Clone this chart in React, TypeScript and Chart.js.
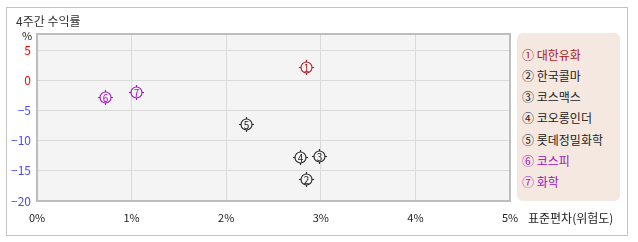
import React, { useEffect, useRef } from "react";
import { Chart, registerables } from "chart.js";

Chart.register(...registerables);

const names = ["대한유화", "한국콜마", "코스맥스", "코오롱인더", "롯데정밀화학", "코스피", "화학"];
const marks = ["①", "②", "③", "④", "⑤", "⑥", "⑦"];
const riskPct = [2.84, 2.84, 2.98, 2.78, 2.21, 0.72, 1.05];
const return4w = [2.3, -16.4, -12.6, -12.7, -7.3, -2.7, -2.0];
const itemColors = ["#b01818", "#222222", "#222222", "#222222", "#222222", "#a010c0", "#a010c0"];
const xTicks = [0, 1, 2, 3, 4, 5];
const yTicks = [-20, -15, -10, -5, 0, 5];

const FONT = '"Noto Sans CJK KR", "Noto Sans", sans-serif';

const framePlugin = {
  id: "frameBits",
  beforeDraw(chart: any) {
    const { ctx, chartArea } = chart;
    ctx.save();
    ctx.fillStyle = "#f4f4f4";
    ctx.fillRect(chartArea.left, chartArea.top, chartArea.right - chartArea.left, chartArea.bottom - chartArea.top);
    ctx.restore();
  },
  afterDatasetsDraw(chart: any) {
    const { ctx } = chart;
    chart.data.datasets.forEach((ds: any, i: number) => {
      const meta = chart.getDatasetMeta(i);
      meta.data.forEach((el: any) => {
        const cx = Math.round(el.x) + 0.5;
        const cy = Math.round(el.y) + 0.5;
        const color = itemColors[i];
        ctx.save();
        ctx.strokeStyle = color;
        ctx.fillStyle = color;
        ctx.lineWidth = 1.1;
        ctx.beginPath();
        ctx.arc(cx, cy, 5.5, 0, Math.PI * 2);
        ctx.stroke();
        ctx.beginPath();
        ctx.moveTo(cx, cy - 7.5); ctx.lineTo(cx, cy - 5.5);
        ctx.moveTo(cx, cy + 5.5); ctx.lineTo(cx, cy + 7.5);
        ctx.moveTo(cx - 7.5, cy); ctx.lineTo(cx - 5.5, cy);
        ctx.moveTo(cx + 5.5, cy); ctx.lineTo(cx + 7.5, cy);
        ctx.stroke();
        ctx.font = "10px " + FONT;
        ctx.textAlign = "center";
        ctx.textBaseline = "middle";
        ctx.fillText(String(i + 1), cx, cy + 0.5);
        ctx.restore();
      });
    });
  },
  afterDraw(chart: any) {
    const { ctx, chartArea } = chart;
    ctx.save();
    ctx.strokeStyle = "#bdbdbd";
    ctx.lineWidth = 2;
    ctx.strokeRect(chartArea.left, chartArea.top, chartArea.right - chartArea.left, chartArea.bottom - chartArea.top);
    ctx.restore();
  },
};

export default function App() {
  const ref = useRef<HTMLCanvasElement>(null);
  useEffect(() => {
    if (!ref.current) return;
    const chart = new Chart(ref.current, {
      type: "scatter",
      data: {
        datasets: names.map((n, i) => ({
          label: n,
          data: [{ x: riskPct[i], y: return4w[i] }],
          pointRadius: 0,
          pointHoverRadius: 0,
          backgroundColor: itemColors[i],
          borderColor: itemColors[i],
        })),
      },
      options: {
        animation: false,
        responsive: false,
        devicePixelRatio: 1,
        layout: { padding: { left: 0, top: 34, right: 128, bottom: 0 } },
        plugins: { legend: { display: false }, tooltip: { enabled: false } },
        scales: {
          x: {
            type: "linear",
            min: xTicks[0],
            max: xTicks[xTicks.length - 1],
            afterBuildTicks: (s: any) => { s.ticks = xTicks.map((v) => ({ value: v })); },
            afterFit: (s: any) => { s.height = 41; },
            border: { display: false },
            grid: { color: "#dadada", lineWidth: 1, drawTicks: false },
            ticks: {
              padding: 10,
              color: "#222",
              font: { family: FONT, size: 11 },
              callback: (v: any) => v + "%",
            },
          },
          y: {
            type: "linear",
            min: -20,
            max: 7.7,
            afterBuildTicks: (s: any) => { s.ticks = yTicks.map((v) => ({ value: v })); },
            afterFit: (s: any) => { s.width = 37; },
            border: { display: false },
            grid: { color: "#dadada", lineWidth: 1, drawTicks: false },
            ticks: {
              padding: 6,
              font: { family: FONT, size: 12 },
              color: (c: any) => (c.tick && c.tick.value >= 0 ? "#ff0000" : "#4a4aff"),
              callback: (v: any) => (v < 0 ? "−" + Math.abs(v) : String(v)),
            },
          },
        },
      },
      plugins: [framePlugin],
    });
    return () => chart.destroy();
  }, []);

  const abs = (o: any): React.CSSProperties => ({ position: "absolute", ...o });
  return (
    <div style={{ position: "fixed", left: 0, top: 0, width: 638, height: 242, background: "#fff", fontFamily: FONT }}>
      <div style={abs({ left: 6, top: 7, width: 622, height: 229, border: "1px solid #c4c4c4", boxSizing: "border-box" })} />
      <canvas ref={ref} width={638} height={242} style={abs({ left: 0, top: 0, width: 638, height: 242 })} />
      <div style={abs({ left: 16, top: 13, fontSize: 12, lineHeight: "16px", color: "#333", whiteSpace: "nowrap" })}>4주간 수익률</div>
      <div style={abs({ left: 22, top: 28, fontSize: 11, lineHeight: "14px", color: "#222" })}>%</div>
      <div style={abs({ left: 528, top: 210, fontSize: 12, lineHeight: "16px", color: "#222", whiteSpace: "nowrap" })}>표준편차(위험도)</div>
      <div style={abs({ left: 517, top: 33, width: 103, height: 168, background: "#f5e8e1", borderRadius: 6 })} />
      {names.map((n, i) => (
        <div
          key={n}
          style={abs({
            left: 522,
            top: 46.7 + 21.2 * i,
            fontSize: 12,
            lineHeight: "16px",
            color: itemColors[i],
            whiteSpace: "nowrap",
          })}
        >
          {marks[i]} {n}
        </div>
      ))}
    </div>
  );
}
